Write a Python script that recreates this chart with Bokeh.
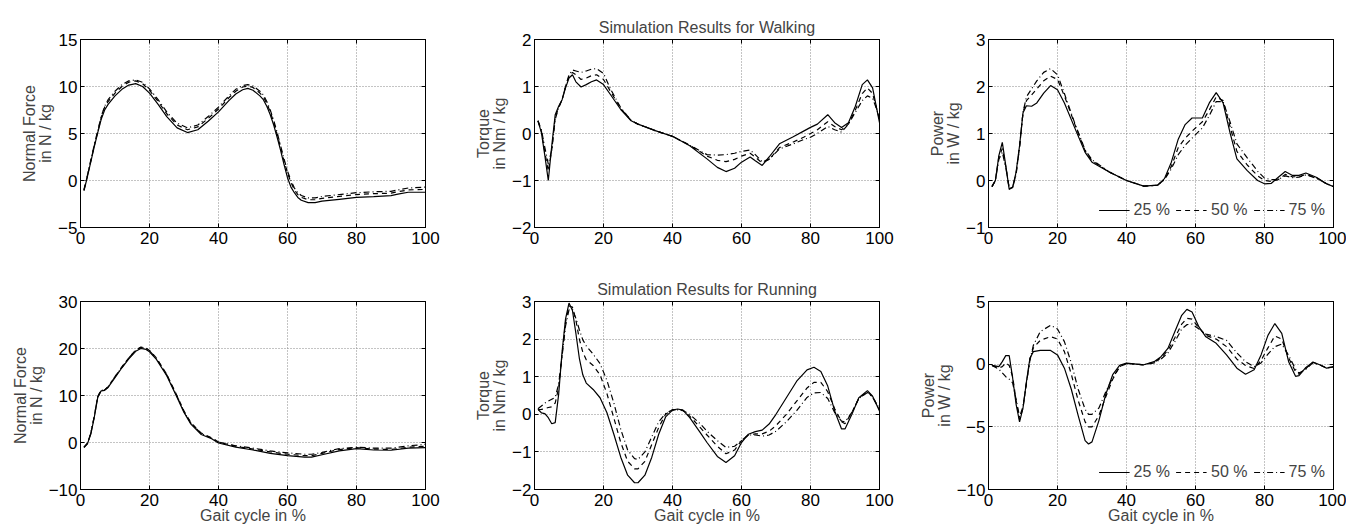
from bokeh.plotting import figure
from bokeh.models import Range1d, FixedTicker, LinearAxis, Legend, LegendItem, CustomJSTickFormatter, Grid
from bokeh.layouts import column, row
from bokeh.embed import file_html
from bokeh.resources import INLINE

FONT = "Liberation Sans"
LEGEND_LABELS = ["25 %", "50 %", "75 %"]
X_TICKS = [0, 20, 40, 60, 80, 100]
X_LABEL = "Gait cycle in %"

# ---------------- Walking: normal force ----------------
wf_x = [1, 2, 3, 4, 5, 6, 7, 8, 10, 12, 14, 16, 18, 20, 22.5, 25, 28, 31, 34, 37, 40, 43, 45, 47, 48.5,
        50, 52, 53, 54, 55, 56, 57, 58, 59, 60, 61, 62, 63, 64, 66, 68, 70, 75, 80, 85, 90, 92, 95, 100]
wf_25 = [-1.1, 0.4, 2.0, 3.6, 5.1, 6.5, 7.5, 8.1, 9.0, 9.7, 10.15, 10.3, 10.0, 9.3, 8.1, 6.8, 5.6, 5.1, 5.4, 6.3,
         7.3, 8.5, 9.2, 9.65, 9.8, 9.6, 9.0, 8.6, 7.9, 7.0, 5.9, 4.6, 3.2, 1.7, 0.3, -0.7, -1.3, -1.8, -2.1, -2.35,
         -2.35, -2.2, -2.0, -1.8, -1.72, -1.6, -1.45, -1.25, -1.25]
wf_50 = [-1.0, 0.5, 2.1, 3.7, 5.2, 6.7, 7.8, 8.4, 9.3, 10.0, 10.45, 10.6, 10.3, 9.6, 8.4, 7.1, 5.9, 5.4, 5.7, 6.6,
         7.6, 8.8, 9.5, 9.95, 10.05, 9.9, 9.3, 8.9, 8.2, 7.3, 6.2, 4.9, 3.5, 2.1, 0.8, -0.2, -1.0, -1.5, -1.8, -2.05,
         -2.05, -1.9, -1.7, -1.5, -1.4, -1.35, -1.2, -1.0, -0.95]
wf_75 = [-1.0, 0.55, 2.2, 3.8, 5.3, 6.8, 7.9, 8.6, 9.5, 10.2, 10.6, 10.7, 10.45, 9.75, 8.6, 7.3, 6.1, 5.6, 5.9, 6.8,
         7.8, 9.0, 9.7, 10.1, 10.2, 10.05, 9.5, 9.1, 8.4, 7.5, 6.4, 5.1, 3.7, 2.3, 1.0, 0.0, -0.8, -1.3, -1.6, -1.85,
         -1.85, -1.7, -1.5, -1.3, -1.2, -1.15, -1.0, -0.8, -0.7]

# ---------------- Walking: torque ----------------
wt_x = [1, 2, 3, 4, 5, 6, 7, 8, 9, 10, 11, 12, 13.5, 15, 16.5, 18, 20, 22, 25, 28, 30, 35, 40, 45, 50,
        53, 55.5, 58, 60, 62.5, 64, 66, 68, 71, 75, 78, 80, 82, 85, 87, 89, 91, 93, 95, 96.5, 98, 100]
wt_25 = [0.27, 0.02, -0.47, -1.0, -0.26, 0.4, 0.58, 0.72, 0.97, 1.18, 1.25, 1.1, 0.99, 1.04, 1.1, 1.14, 1.04, 0.83,
         0.51, 0.27, 0.2, 0.06, -0.06, -0.26, -0.54, -0.72, -0.81, -0.74, -0.61, -0.5, -0.58, -0.68, -0.5, -0.22,
         -0.07, 0.05, 0.13, 0.2, 0.4, 0.23, 0.13, 0.23, 0.58, 1.04, 1.14, 0.97, 0.23]
wt_50 = [0.27, 0.05, -0.4, -0.8, -0.35, 0.35, 0.55, 0.72, 1.0, 1.22, 1.3, 1.25, 1.15, 1.18, 1.23, 1.25, 1.15, 0.9,
         0.53, 0.28, 0.2, 0.06, -0.06, -0.25, -0.48, -0.57, -0.6, -0.55, -0.48, -0.42, -0.5, -0.63, -0.55, -0.3,
         -0.18, -0.08, 0.0, 0.08, 0.25, 0.15, 0.08, 0.2, 0.5, 0.85, 0.97, 0.85, 0.3]
wt_75 = [0.27, 0.08, -0.3, -0.65, -0.35, 0.3, 0.55, 0.72, 1.0, 1.25, 1.35, 1.33, 1.3, 1.33, 1.37, 1.38, 1.28, 0.95,
         0.55, 0.28, 0.2, 0.06, -0.06, -0.25, -0.45, -0.46, -0.45, -0.42, -0.38, -0.35, -0.45, -0.6, -0.55, -0.33,
         -0.22, -0.13, -0.08, 0.0, 0.15, 0.08, 0.03, 0.2, 0.45, 0.7, 0.8, 0.75, 0.35]

# ---------------- Walking: power ----------------
wp_x = [1, 2, 3, 4, 5, 6, 7, 8, 9, 10, 11, 12.5, 14, 16, 18, 20, 22, 25, 28, 30, 35, 40, 45, 49, 51,
        53, 55, 57, 59, 62, 64, 66, 68, 70, 72, 75, 78, 80, 82, 84, 86, 88, 90, 92, 95, 98, 100]
wp_25 = [-0.13, 0.0, 0.53, 0.81, 0.32, -0.19, -0.14, 0.18, 0.74, 1.44, 1.59, 1.58, 1.65, 1.86, 2.02, 1.93, 1.65,
         1.12, 0.6, 0.39, 0.18, 0.0, -0.12, -0.1, 0.04, 0.39, 0.88, 1.19, 1.33, 1.33, 1.65, 1.87, 1.65, 1.02, 0.46,
         0.21, 0.0, -0.07, -0.06, 0.07, 0.19, 0.11, 0.11, 0.16, 0.07, -0.07, -0.13]
wp_50 = [-0.13, 0.0, 0.5, 0.68, 0.3, -0.17, -0.15, 0.15, 0.72, 1.45, 1.7, 1.82, 1.95, 2.12, 2.22, 2.15, 1.8,
         1.2, 0.63, 0.42, 0.18, 0.0, -0.12, -0.1, 0.02, 0.3, 0.7, 0.9, 1.05, 1.25, 1.5, 1.78, 1.7, 1.15, 0.62,
         0.33, 0.1, 0.0, -0.02, 0.02, 0.13, 0.08, 0.08, 0.13, 0.06, -0.07, -0.13]
wp_75 = [-0.13, 0.0, 0.45, 0.6, 0.28, -0.15, -0.15, 0.13, 0.7, 1.45, 1.78, 1.95, 2.12, 2.3, 2.38, 2.25, 1.85,
         1.22, 0.65, 0.44, 0.18, 0.0, -0.12, -0.1, 0.02, 0.25, 0.55, 0.75, 0.9, 1.12, 1.38, 1.68, 1.68, 1.25, 0.78,
         0.48, 0.2, 0.05, 0.02, 0.02, 0.1, 0.06, 0.07, 0.12, 0.05, -0.07, -0.13]

# ---------------- Running: normal force ----------------
rf_x = [1, 2, 3, 4, 5, 6, 7, 8, 10, 12, 14, 16, 17.5, 19, 20, 22, 25, 28, 30, 32, 35, 38, 40, 45, 50,
        55, 60, 65, 67, 70, 75, 80, 85, 90, 95, 100]
rf_25 = [-1.1, -0.3, 1.8, 5.4, 9.6, 11.0, 11.1, 11.7, 13.8, 15.9, 17.8, 19.4, 20.0, 19.8, 19.3, 17.7, 14.2, 9.6,
         6.4, 3.9, 1.7, 0.8, -0.1, -1.0, -1.6, -2.3, -2.8, -3.1, -3.1, -2.6, -1.8, -1.3, -1.6, -1.65, -1.2, -1.1]
rf_50 = [-1.0, -0.2, 2.0, 5.6, 9.8, 11.1, 11.2, 11.9, 14.0, 16.1, 18.0, 19.7, 20.3, 20.1, 19.6, 18.0, 14.5, 9.9,
         6.7, 4.2, 2.0, 1.0, 0.1, -0.8, -1.4, -2.0, -2.5, -2.8, -2.8, -2.3, -1.5, -1.1, -1.4, -1.5, -1.0, -0.8]
rf_75 = [-1.0, -0.2, 2.0, 5.6, 9.8, 11.1, 11.2, 11.8, 14.0, 16.0, 18.0, 19.6, 20.2, 20.0, 19.5, 17.9, 14.4, 9.8,
         6.6, 4.1, 1.9, 0.9, 0.1, -0.7, -1.2, -1.8, -2.2, -2.5, -2.5, -2.1, -1.3, -1.0, -1.2, -1.2, -0.7, -0.4]

# ---------------- Running: torque ----------------
rt_x = [1, 2, 3, 4, 5, 6, 7, 8, 9, 10, 11, 12, 13, 14, 15, 17, 19, 21, 23, 25, 27, 29, 30, 32, 34, 36, 38, 40,
        41.5, 43, 45, 48, 50, 53, 55.5, 58, 60, 62, 64, 66, 68, 70, 73, 76, 79, 81, 83, 85, 87, 89, 90, 92, 94,
        96.5, 98, 100]
rt_25 = [0.13, 0.04, 0.02, -0.09, -0.25, -0.22, 0.53, 1.67, 2.54, 2.96, 2.76, 2.15, 1.49, 1.05, 0.83, 0.66, 0.44,
         0.04, -0.53, -1.14, -1.62, -1.82, -1.82, -1.62, -1.14, -0.53, -0.07, 0.11, 0.14, 0.11, -0.09, -0.48, -0.75,
         -1.12, -1.28, -1.1, -0.75, -0.53, -0.46, -0.42, -0.26, 0.0, 0.44, 0.88, 1.18, 1.25, 1.14, 0.75, 0.09,
         -0.39, -0.39, 0.0, 0.44, 0.63, 0.48, 0.09]
rt_50 = [0.12, 0.13, 0.15, 0.18, 0.2, 0.3, 0.7, 1.6, 2.45, 2.88, 2.85, 2.5, 2.0, 1.65, 1.45, 1.3, 1.05, 0.55,
         -0.1, -0.75, -1.25, -1.45, -1.45, -1.25, -0.8, -0.35, 0.0, 0.12, 0.13, 0.11, -0.05, -0.35, -0.55, -0.85,
         -1.05, -0.95, -0.7, -0.55, -0.52, -0.52, -0.45, -0.3, 0.0, 0.35, 0.7, 0.85, 0.85, 0.6, 0.15, -0.2, -0.25,
         0.05, 0.42, 0.6, 0.47, 0.12]
rt_75 = [0.15, 0.22, 0.3, 0.35, 0.4, 0.45, 0.8, 1.55, 2.35, 2.78, 2.8, 2.55, 2.25, 1.98, 1.82, 1.6, 1.35, 0.9,
         0.3, -0.4, -0.95, -1.18, -1.2, -1.0, -0.6, -0.2, 0.02, 0.12, 0.12, 0.1, 0.0, -0.25, -0.45, -0.7, -0.88,
         -0.85, -0.7, -0.55, -0.55, -0.58, -0.55, -0.45, -0.2, 0.1, 0.45, 0.57, 0.58, 0.42, 0.05, -0.18, -0.2,
         0.05, 0.42, 0.58, 0.45, 0.15]

# ---------------- Running: power ----------------
rp_x = [1, 3, 4, 5, 6, 7, 8, 9, 10, 11, 12, 13, 15, 18, 20, 22, 24, 26, 28, 29, 30, 32, 34, 36, 38, 40, 45, 48,
        50, 52, 54, 56, 57.5, 59, 61, 63, 66, 69, 72, 74.5, 77, 79, 81, 83, 85, 87, 89, 90, 92, 94, 96, 98, 100]
rp_25 = [-0.1, -0.2, 0.2, 0.68, 0.68, -1.1, -3.2, -4.6, -3.5, -1.4, 0.47, 1.0, 1.1, 1.1, 0.74, -0.32, -2.0, -4.1,
         -6.1, -6.37, -6.2, -4.5, -2.4, -0.84, -0.1, 0.08, -0.05, 0.2, 0.6, 1.26, 2.58, 3.9, 4.37, 4.16, 2.97, 2.18,
         1.66, 0.74, -0.32, -0.8, -0.45, 0.74, 2.3, 3.24, 2.45, 0.2, -0.97, -0.92, -0.26, 0.16, -0.05, -0.32, -0.21]
rp_50 = [-0.1, -0.3, -0.2, 0.1, -0.1, -1.0, -2.9, -4.4, -3.5, -1.5, 0.4, 1.3, 1.9, 2.2, 2.0, 1.0, -0.8, -2.9,
         -4.6, -5.0, -5.0, -4.1, -2.6, -1.2, -0.2, 0.05, -0.05, 0.15, 0.5, 1.1, 2.1, 3.2, 3.65, 3.6, 2.9, 2.3,
         2.0, 1.4, 0.4, -0.1, -0.35, 0.3, 1.3, 2.25, 2.0, 0.5, -0.6, -0.8, -0.35, 0.15, -0.05, -0.3, -0.2]
rp_75 = [-0.1, -0.4, -0.7, -1.0, -1.2, -1.5, -2.8, -4.2, -3.4, -1.5, 0.3, 1.5, 2.6, 3.1, 2.8, 1.8, 0.1, -2.0,
         -3.6, -4.0, -4.0, -3.5, -2.2, -1.1, -0.2, 0.05, -0.05, 0.1, 0.4, 0.9, 1.8, 2.8, 3.15, 3.2, 2.8, 2.4,
         2.2, 1.9, 0.9, 0.2, -0.2, 0.1, 0.8, 1.4, 1.6, 0.7, -0.4, -0.7, -0.4, 0.1, -0.05, -0.3, -0.2]

DASHES = ["solid", "5 4", "6 3 1 3"]
MINUS_FMT = "return tick < 0 ? '\u2212' + Math.abs(tick) : String(tick);"
FRAME_W, FRAME_H = 345, 188


def style_axis(ax, ticks, labels=True, standoff=4):
    ax.ticker = FixedTicker(ticks=ticks)
    ax.major_tick_in = 4
    ax.major_tick_out = 0
    ax.minor_tick_line_color = None
    ax.axis_line_color = "black"
    ax.major_tick_line_color = "black"
    if labels:
        ax.formatter = CustomJSTickFormatter(code=MINUS_FMT)
        ax.major_label_text_font = FONT
        ax.major_label_text_font_size = "17px"
        ax.major_label_text_color = "black"
        ax.major_label_standoff = standoff
    else:
        ax.formatter = CustomJSTickFormatter(code="return '';")
        ax.major_label_text_font_size = "0px"
        ax.major_label_standoff = 0


def make(xs, series, yr, yticks, ylabel, bl, br, bt, bb, title=None, xlabel=None, legend=False):
    bottom = LinearAxis()
    left = LinearAxis()
    top = LinearAxis()
    right = LinearAxis()
    p = figure(frame_width=FRAME_W, frame_height=FRAME_H, x_range=Range1d(0, 100), y_range=Range1d(*yr),
               output_backend="svg", toolbar_location=None, x_axis_location=None, y_axis_location=None,
               min_border_left=bl, min_border_right=br, min_border_top=bt, min_border_bottom=bb,
               outline_line_color="black", outline_line_width=1,
               background_fill_color="white", border_fill_color="white")
    # drop the default grids; add dotted ones on the fixed ticks
    p.center = [r for r in p.center if not isinstance(r, Grid)]
    style_axis(bottom, X_TICKS, True, 4)
    style_axis(left, yticks, True, 3)
    style_axis(top, X_TICKS, False)
    style_axis(right, yticks, False)
    p.add_layout(bottom, "below")
    p.add_layout(left, "left")
    p.add_layout(top, "above")
    p.add_layout(right, "right")

    left.axis_label = ylabel
    left.axis_label_text_font = FONT
    left.axis_label_text_font_size = "16px"
    left.axis_label_text_font_style = "normal"
    left.axis_label_text_line_height = 0.92
    left.axis_label_standoff = 1

    if xlabel:
        bottom.axis_label = xlabel
        bottom.axis_label_text_font = FONT
        bottom.axis_label_text_font_size = "16px"
        bottom.axis_label_text_font_style = "normal"
        bottom.axis_label_standoff = -2

    for tk, dim in ((X_TICKS, 0), (yticks, 1)):
        g = Grid(dimension=dim, ticker=FixedTicker(ticks=tk), grid_line_color="#888888",
                 grid_line_dash="1 2", grid_line_width=1)
        p.add_layout(g)

    if title:
        p.title.text = title
        p.title.align = "center"
        p.title.text_font = FONT
        p.title.text_font_size = "16px"
        p.title.text_font_style = "normal"
        p.title.standoff = 8

    rends = []
    for ys, dash in zip(series, DASHES):
        r = p.line(xs, ys, line_color="black", line_width=1.2, line_dash=dash)
        rends.append(r)
    if legend:
        lg = Legend(items=[LegendItem(label=l, renderers=[r]) for l, r in zip(LEGEND_LABELS, rends)],
                    orientation="horizontal", location="bottom_right",
                    background_fill_alpha=0, border_line_alpha=0,
                    label_text_font=FONT, label_text_font_size="16px",
                    glyph_width=31, glyph_height=16, label_height=16,
                    label_standoff=4, spacing=6, padding=4, margin=4)
        p.add_layout(lg)
    return p


f1 = make(wf_x, [wf_25, wf_50, wf_75], (-5, 15), [-5, 0, 5, 10, 15], "Normal Force\nin N / kg", 80, 25, 39, 35)
f2 = make(wt_x, [wt_25, wt_50, wt_75], (-2, 2), [-2, -1, 0, 1, 2], "Torque\nin Nm / kg", 84, 21, 39, 35,
          title="Simulation Results for Walking")
f3 = make(wp_x, [wp_25, wp_50, wp_75], (-1, 3), [-1, 0, 1, 2, 3], "Power\nin W / kg", 88, 13, 39, 35, legend=True)
f4 = make(rf_x, [rf_25, rf_50, rf_75], (-10, 30), [-10, 0, 10, 20, 30], "Normal Force\nin N / kg", 80, 25, 39, 30,
          xlabel=X_LABEL)
f5 = make(rt_x, [rt_25, rt_50, rt_75], (-2, 3), [-2, -1, 0, 1, 2, 3], "Torque\nin Nm / kg", 84, 21, 39, 30,
          title="Simulation Results for Running", xlabel=X_LABEL)
f6 = make(rp_x, [rp_25, rp_50, rp_75], (-10, 5), [-10, -5, 0, 5], "Power\nin W / kg", 88, 13, 39, 30,
          xlabel=X_LABEL, legend=True)

layout = column(row(f1, f2, f3), row(f4, f5, f6))
open("out.html", "w").write(file_html(layout, INLINE))
